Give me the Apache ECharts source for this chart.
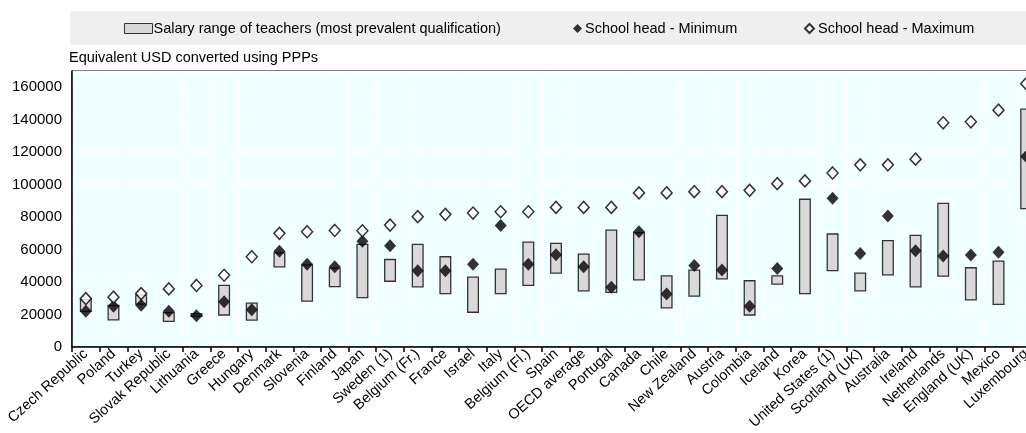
<!DOCTYPE html>
<html>
<head>
<meta charset="utf-8">
<script src="https://cdn.jsdelivr.net/npm/echarts@6/dist/echarts.min.js"></script>
<style>
html,body{margin:0;padding:0;background:#fff;}
#chart{width:1026px;height:433px;}
</style>
</head>
<body>
<div id="chart"></div>
<script>
const categories = ["Czech Republic","Poland","Turkey","Slovak Republic","Lithuania","Greece","Hungary","Denmark","Slovenia","Finland","Japan","Sweden (1)","Belgium (Fr.)","France","Israel","Italy","Belgium (Fl.)","Spain","OECD average","Portugal","Canada","Chile","New Zealand","Austria","Colombia","Iceland","Korea","United States (1)","Scotland (UK)","Australia","Ireland","Netherlands","England (UK)","Mexico","Luxembourg"];
const teacherLow  = [21600,16300,26100,15400,18500,19300,16100,49000,27800,36800,30000,40100,36600,32500,21000,32500,37500,45100,34200,33300,41000,23700,30900,41600,19300,38300,32500,46700,34200,44000,36600,43200,28600,25900,84800];
const teacherHigh = [29600,26100,32300,21600,21000,38300,27400,58400,51000,49000,63600,54300,63600,56000,43400,48400,65000,64200,57600,72400,70800,44200,47700,81500,41200,44200,91400,70000,45900,65900,69100,88900,49200,53300,146900];
const headMin = [22000,25100,25700,22000,19300,27800,23000,58900,51000,49400,65200,62400,46900,46900,51000,74900,51000,56800,49400,36800,71000,32700,50200,47500,25100,48400,null,91600,57600,80700,59300,56000,56600,58400,117300];
const headMax = [29800,30700,32900,35800,37900,44200,55600,70000,71000,71800,71600,75100,80300,81700,82500,83300,83300,86000,86000,86000,94900,94900,95700,95700,96500,100600,102300,107200,112200,112200,115700,138100,138700,145900,162200];
const yTicks = {min: 0, max: 170000, interval: 20000};

const FONT = "'Liberation Sans', Arial, sans-serif";
const rangeName = "Salary range of teachers (most prevalent qualification)";
const minName = "School head - Minimum";
const maxName = "School head - Maximum";

const chart = echarts.init(document.getElementById('chart'), null, {renderer: 'canvas'});
const legendText = {fontFamily: FONT, fontSize: 14.5, color: '#000'};
chart.setOption({
  animation: false,
  backgroundColor: '#fff',
  graphic: [{
    type: 'rect', left: 70, top: 11, z: -10,
    shape: {width: 960, height: 34},
    style: {fill: '#efefef'}
  }],
  title: {
    text: 'Equivalent USD converted using PPPs',
    left: 69, top: 50, padding: 0,
    textStyle: {fontFamily: FONT, fontSize: 14.5, fontWeight: 'normal', color: '#000'}
  },
  legend: [
    {data: [rangeName], left: 124, top: 21, padding: 0, itemWidth: 28, itemHeight: 10, itemGap: 0,
     icon: 'rect', textStyle: Object.assign({padding: [0,0,0,-4]}, legendText),
     itemStyle: {color: '#d9d9d9', borderColor: '#333', borderWidth: 1}},
    {data: [minName], left: 573, top: 21, padding: 0, itemWidth: 9, itemHeight: 9,
     textStyle: Object.assign({padding: [0,0,0,-2]}, legendText)},
    {data: [maxName], left: 804, top: 21, padding: 0, itemWidth: 9, itemHeight: 9,
     textStyle: Object.assign({padding: [0,0,0,-1]}, legendText)}
  ],
  grid: {
    left: 72, top: 71, right: -14, bottom: 86,
    show: true, backgroundColor: '#F0FFFF', borderColor: '#000', borderWidth: 1,
    containLabel: false, outerBoundsMode: 'none'
  },
  xAxis: {
    type: 'category',
    data: categories,
    axisLine: {show: true, lineStyle: {color: '#000', width: 1.5}},
    axisTick: {show: true, length: 5, lineStyle: {color: '#000', width: 1.5}},
    splitLine: {show: true, lineStyle: {color: '#fff', width: 1}},
    axisLabel: {rotate: 42, margin: 5, interval: 0, fontFamily: FONT, fontSize: 14.5, color: '#000'}
  },
  yAxis: {
    type: 'value',
    min: yTicks.min, max: yTicks.max, interval: yTicks.interval,
    axisLine: {show: true, lineStyle: {color: '#000', width: 1.5}},
    axisTick: {show: false},
    splitLine: {show: true, lineStyle: {color: '#fff', width: 1}},
    axisLabel: {showMaxLabel: false, margin: 10, fontFamily: FONT, fontSize: 15, color: '#000',
      formatter: v => String(v)}
  },
  series: [
    {
      name: 'base', type: 'bar', stack: 'range', barWidth: 12,
      data: teacherLow,
      itemStyle: {color: 'transparent'},
      silent: true
    },
    {
      name: rangeName, type: 'bar', stack: 'range', barWidth: 12,
      data: teacherHigh.map((h, i) => h - teacherLow[i]),
      itemStyle: {color: '#d9d9d9', borderColor: '#333', borderWidth: 1.3}
    },
    {
      name: minName, type: 'scatter', symbol: 'diamond', symbolSize: [12, 13],
      data: headMin,
      itemStyle: {color: '#000'}, z: 4
    },
    {
      name: maxName, type: 'scatter', symbol: 'diamond', symbolSize: [11, 12],
      data: headMax,
      itemStyle: {color: '#fff', borderColor: '#000', borderWidth: 1.5}, z: 5
    }
  ]
});
</script>
</body>
</html>
